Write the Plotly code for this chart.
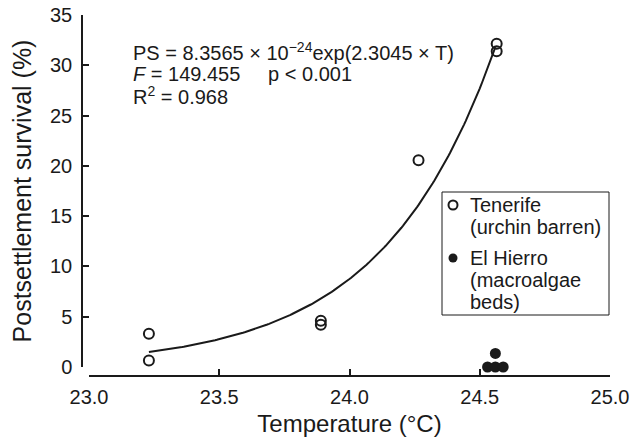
import numpy as np
import plotly.graph_objects as go

# Data
tenerife_T = [23.23, 23.23, 23.89, 23.89, 24.265, 24.565, 24.565]
tenerife_PS = [3.3, 0.65, 4.6, 4.2, 20.55, 32.15, 31.4]
hierro_T = [24.53, 24.56, 24.59, 24.56]
hierro_PS = [0.0, 0.0, 0.0, 1.35]

# Fitted model PS = a * exp(b * T), as printed on the chart
fit_a = 8.3565e-24
fit_b = 2.3045
fit_T_range = [23.23, 24.56]

x_ticks = [23.0, 23.5, 24.0, 24.5, 25.0]
y_ticks = [0, 5, 10, 15, 20, 25, 30, 35]

legend_labels = [["Tenerife", "(urchin barren)"],
                 ["El Hierro", "(macroalgae", "beds)"]]

INK = "#1a1a1a"
FONT = "Liberation Sans, Arial, Helvetica, sans-serif"

W, H = 633, 437
ml, mr, mt, mb = 82, 23, 15, 61
pw, ph = W - ml - mr, H - mt - mb


def px(xp):
    return (xp - ml) / pw


def py(yp):
    return (H - mb - yp) / ph


fit_T = np.linspace(fit_T_range[0], fit_T_range[1], 200)
fit_PS = fit_a * np.exp(fit_b * fit_T)

fig = go.Figure()
fig.add_trace(go.Scatter(
    x=fit_T, y=fit_PS, mode="lines",
    line=dict(color=INK, width=2), showlegend=False, hoverinfo="skip"))
fig.add_trace(go.Scatter(
    x=tenerife_T, y=tenerife_PS, mode="markers", cliponaxis=False,
    name="Tenerife (urchin barren)", showlegend=False,
    marker=dict(symbol="circle-open", size=10, color=INK, line=dict(width=2, color=INK))))
fig.add_trace(go.Scatter(
    x=hierro_T, y=hierro_PS, mode="markers", cliponaxis=False,
    name="El Hierro (macroalgae beds)", showlegend=False,
    marker=dict(symbol="circle", size=11, color=INK, line=dict(width=0))))

fig.update_layout(
    width=W, height=H,
    margin=dict(l=ml, r=mr, t=mt, b=mb, pad=0, autoexpand=False),
    paper_bgcolor="white", plot_bgcolor="white",
    font=dict(family=FONT, size=20, color=INK),
    showlegend=False,
    xaxis=dict(
        range=[23.0, 25.0], domain=[px(89), 1.0],
        anchor="free", position=0, automargin=False,
        tickvals=x_ticks, ticktext=[f"{v:.1f}" for v in x_ticks],
        ticks="inside", ticklen=6, tickwidth=1.5, tickcolor=INK,
        showline=True, linecolor=INK, linewidth=1.5,
        showgrid=False, zeroline=False,
        tickfont=dict(size=20), ticklabelstandoff=3,
        title=dict(text="Temperature (°C)", font=dict(size=24), standoff=9),
    ),
    yaxis=dict(
        range=[0, 35], domain=[py(367), 1.0],
        anchor="free", position=0, automargin=False,
        tickvals=y_ticks,
        ticks="inside", ticklen=6, tickwidth=1.5, tickcolor=INK,
        showline=True, linecolor=INK, linewidth=1.5,
        showgrid=False, zeroline=False,
        tickfont=dict(size=20), ticklabelstandoff=5,
        title=dict(text="Postsettlement survival (%)", font=dict(size=25), standoff=10),
    ),
)

# Equation block
eq_lines = [
    "PS = 8.3565 × 10<sup>−24</sup>exp(2.3045 × T)",
    "<i>F</i> = 149.455\u00a0\u00a0\u00a0\u00a0 p &lt; 0.001",
    "R<sup>2</sup> = 0.968",
]
eq_y_px = [51.5, 73.5, 95.5]
for txt, yp in zip(eq_lines, eq_y_px):
    fig.add_annotation(
        text=txt, xref="paper", yref="paper",
        x=px(131), y=py(yp),
        xanchor="left", yanchor="middle", showarrow=False,
        font=dict(family=FONT, size=20, color=INK))

# Legend box (drawn)
fig.add_shape(type="rect", xref="paper", yref="paper",
              x0=px(442), x1=px(609), y0=py(315), y1=py(192),
              line=dict(color=INK, width=1), fillcolor="white", layer="above")
legend_marker_y = [205, 258]
legend_filled = [False, True]
for lines, ym, filled in zip(legend_labels, legend_marker_y, legend_filled):
    fig.add_shape(type="circle", xref="paper", yref="paper",
                  xsizemode="pixel", ysizemode="pixel",
                  xanchor=px(453), yanchor=py(ym),
                  x0=-4.5, x1=4.5, y0=-4.5, y1=4.5,
                  line=dict(color=INK, width=0 if filled else 2),
                  fillcolor=INK if filled else "white", layer="above")
    for i, t in enumerate(lines):
        fig.add_annotation(
            text=t, xref="paper", yref="paper",
            x=px(468), y=py(ym + 22 * i),
            xanchor="left", yanchor="middle", showarrow=False,
            font=dict(family=FONT, size=20, color=INK))

fig.write_html("out.html")
